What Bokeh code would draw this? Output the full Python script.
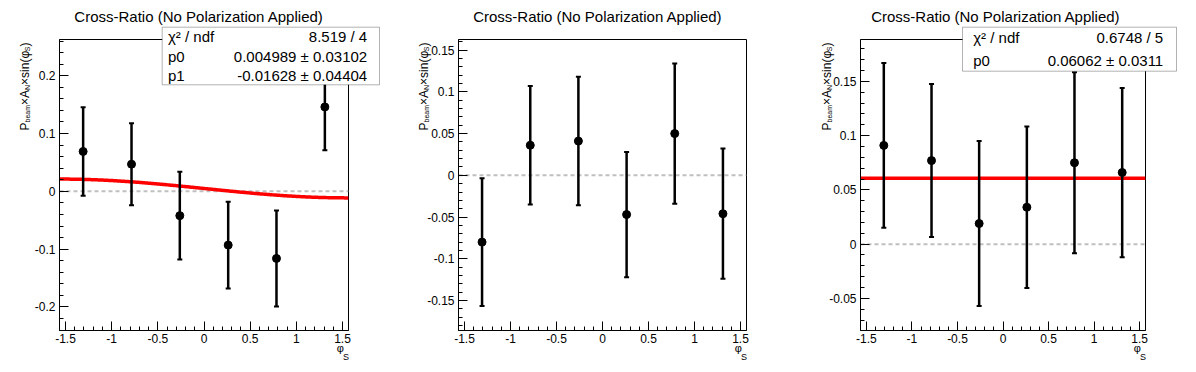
import numpy as np
from bokeh.plotting import figure
from bokeh.layouts import row, column
from bokeh.models import (Range1d, SingleIntervalTicker, Span, Label, BoxAnnotation,
                          ColumnDataSource, CustomJSTickFormatter, GridBox)
from bokeh.embed import file_html
from bokeh.resources import INLINE

# ---------------- data ----------------
title_text = "Cross-Ratio (No Polarization Applied)"
phi_s = [-1.309, -0.785, -0.262, 0.262, 0.785, 1.309]

y_p1 = [0.069, 0.047, -0.042, -0.093, -0.116, 0.146]
e_p1 = [0.0765, 0.071, 0.076, 0.075, 0.083, 0.075]

y_p2 = [-0.080, 0.036, 0.041, -0.047, 0.050, -0.046]
e_p2 = [0.0765, 0.071, 0.077, 0.075, 0.084, 0.078]

y_p3 = [0.091, 0.077, 0.019, 0.034, 0.075, 0.066]
e_p3 = [0.076, 0.0705, 0.076, 0.0745, 0.0835, 0.078]

x_lim = (-1.565, 1.565)
y_lim_p1 = (-0.2407, 0.2627)
y_lim_p2 = (-0.1859, 0.1627)
y_lim_p3 = (-0.0796, 0.1886)

fit_p1 = (0.004989, -0.01628)   # p0 + p1*sin(phi_S)
fit_p3 = 0.06062                # p0

stats_p1 = [("χ² / ndf", "8.519 / 4"),
            ("p0", "0.004989 ± 0.03102"),
            ("p1", "-0.01628 ± 0.04404")]
stats_p3 = [("χ² / ndf", "0.6748 / 5"),
            ("p0", "0.06062 ± 0.0311")]

FONT = "Liberation Sans"
FH = 291          # frame height
BT, BB = 39, 34   # top / bottom borders
H = BT + FH + BB  # 364
COLS = [407, 399, 374]
W_ALL = sum(COLS)

# approximate Arial/Liberation Sans advance widths (em)
W = {"P": .667, "b": .556, "e": .556, "a": .556, "m": .833, "×": .584, "A": .667,
     "N": .722, "s": .5, "i": .222, "n": .556, "(": .333, "φ": .62, "S": .667, ")": .333}


def tw(s, size):
    return sum(W[c] for c in s) * size


def make_panel(yv, ev, ylim, ymajor, fw, bl, br, fit=None):
    p = figure(frame_width=fw, frame_height=FH, min_border_left=bl, min_border_right=br,
               min_border_top=BT, min_border_bottom=BB,
               x_range=Range1d(*x_lim), y_range=Range1d(*ylim),
               output_backend="svg", toolbar_location=None,
               background_fill_color="white", border_fill_color="white")
    p.outline_line_color = "black"
    p.outline_line_width = 1
    p.xgrid.visible = False
    p.ygrid.visible = False
    fmt = "return String(parseFloat(tick.toFixed(4)));"
    p.xaxis.ticker = SingleIntervalTicker(interval=0.5, num_minor_ticks=5)
    p.yaxis.ticker = SingleIntervalTicker(interval=ymajor, num_minor_ticks=5)
    for ax in (p.xaxis[0], p.yaxis[0]):
        ax.formatter = CustomJSTickFormatter(code=fmt)
        ax.major_tick_in = 9
        ax.major_tick_out = 0
        ax.minor_tick_in = 4
        ax.minor_tick_out = 0
        ax.axis_line_color = "black"
        ax.major_tick_line_color = "black"
        ax.minor_tick_line_color = "black"
        ax.major_label_text_font = FONT
        ax.major_label_text_font_size = "12px"
        ax.major_label_text_color = "black"
    p.xaxis.major_label_standoff = 3
    p.yaxis.major_label_standoff = 4

    p.add_layout(Span(location=0, dimension="width", line_color="#c0c0c0",
                      line_dash="4 3", line_width=2, level="underlay"))

    if fit is not None:
        xs = np.linspace(x_lim[0], x_lim[1], 300)
        if isinstance(fit, tuple):
            ys = fit[0] + fit[1] * np.sin(xs)
        else:
            ys = np.full_like(xs, fit)
        p.line(xs, ys, line_color="#ff0000", line_width=3.5)

    src = ColumnDataSource(dict(x=phi_s, y=yv,
                                lo=[a - b for a, b in zip(yv, ev)],
                                hi=[a + b for a, b in zip(yv, ev)]))
    p.segment(x0="x", y0="lo", x1="x", y1="hi", source=src, line_color="black", line_width=2.5)
    p.scatter("x", "hi", source=src, marker="dash", size=5, line_color="black", line_width=2)
    p.scatter("x", "lo", source=src, marker="dash", size=5, line_color="black", line_width=2)
    p.scatter("x", "y", source=src, marker="circle", size=8, fill_color="black", line_color="black")
    return p


p1 = make_panel(y_p1, e_p1, y_lim_p1, 0.1, 289, 59, COLS[0] - 59 - 289, fit=fit_p1)
p2 = make_panel(y_p2, e_p2, y_lim_p2, 0.05, 288, 51, COLS[1] - 51 - 288)
p3 = make_panel(y_p3, e_p3, y_lim_p3, 0.05, 285, 54, COLS[2] - 54 - 285, fit=fit_p3)

# ---------------- overlay for the texts outside the frames ----------------
ov = figure(width=W_ALL, height=H, x_range=Range1d(0, W_ALL), y_range=Range1d(0, H),
            x_axis_type=None, y_axis_type=None, toolbar_location=None,
            output_backend="svg", min_border=0)
ov.outline_line_color = None
ov.background_fill_alpha = 0
ov.border_fill_alpha = 0


def lab(x, ytop, text, size, align="left", baseline="middle", angle=0.0):
    """x, ytop in page pixels (y measured from the top)."""
    ov.add_layout(Label(x=x, y=H - ytop, x_units="screen", y_units="screen", text=text,
                        text_font=FONT, text_font_size=f"{size}px", text_color="black",
                        text_align=align, text_baseline=baseline, angle=angle))


panel_geo = [  # title centre x, y-label baseline x, frame right x
    (198.5, 24.0, 348.0),
    (597.3, 423.0, 746.0),
    (995.3, 826.0, 1145.0),
]
for tx, yx, fr in panel_geo:
    lab(tx, 16, title_text, 15, align="center")
    ypos = 130.0
    for txt, sub in [("P", 0), ("beam", 1), ("×A", 0), ("N", 1), ("×sin(φ", 0), ("S", 1), (")", 0)]:
        size = 7 if sub else 12
        lab(yx + (2.5 if sub else 0), ypos, txt, size, baseline="alphabetic", angle=np.pi / 2)
        ypos -= tw(txt, size)
    lab(fr - 4.5, 347.5, "φ", 11, align="right", baseline="alphabetic")
    lab(fr - 5.5, 356, "S", 9, align="left", baseline="alphabetic")

boxes = [
    # left, right, top, bottom, text left, text right, row centres, rows
    (161.7, 379.0, 26.7, 84.3, 167.5, 366.7, [35.5, 55.5, 75.0], stats_p1),
    (962.0, 1176.0, 26.7, 70.7, 972.7, 1162.7, [37.0, 59.5], stats_p3),
]
for l, r, t, b, tl, tr, rows, stats in boxes:
    ov.add_layout(BoxAnnotation(left=l, right=r, top=H - t, bottom=H - b,
                                left_units="screen", right_units="screen",
                                top_units="screen", bottom_units="screen",
                                fill_color="white", fill_alpha=1.0,
                                line_color="black", line_width=1, level="annotation"))
    for (k, v), yy in zip(stats, rows):
        ov.add_layout(Label(x=tl, y=H - yy, x_units="screen", y_units="screen", text=k,
                            text_font=FONT, text_font_size="15px", text_color="black",
                            text_align="left", text_baseline="middle", level="overlay"))
        ov.add_layout(Label(x=tr, y=H - yy, x_units="screen", y_units="screen", text=v,
                            text_font=FONT, text_font_size="15px", text_color="black",
                            text_align="right", text_baseline="middle", level="overlay"))

panels = row(p1, p2, p3, spacing=0)
layer = column(ov, spacing=0)
layout = GridBox(children=[(panels, 0, 0), (layer, 0, 0)], spacing=0)
open("out.html", "w").write(file_html(layout, INLINE))
